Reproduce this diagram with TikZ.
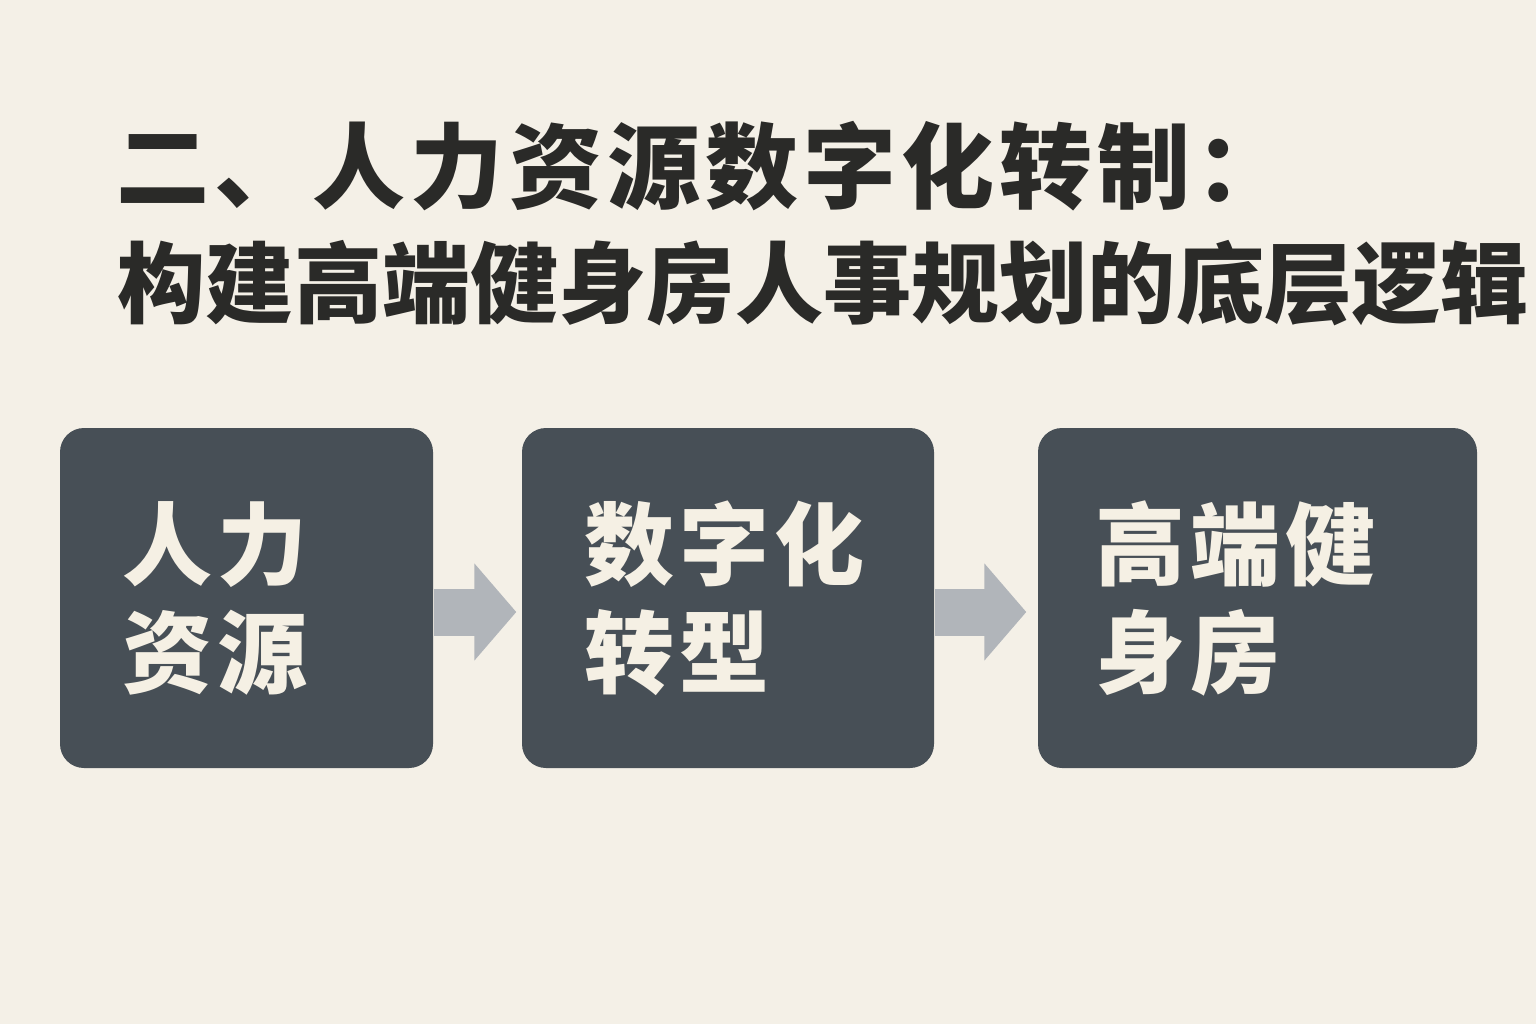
\documentclass[tikz,border=0pt]{standalone}
\usepackage{fontspec}
\setmainfont{Noto Sans CJK SC}
\newfontfamily\titlefont{Noto Sans CJK SC}[LetterSpace=5.5]
\newfontfamily\boxfont{Noto Sans CJK SC}[LetterSpace=6]
\usepackage{tikz}
\usetikzlibrary{positioning, calc, arrows.meta}
\usepackage{xcolor}
\definecolor{paper}{HTML}{F4F0E7}
\definecolor{slate}{HTML}{474F56}
\definecolor{ink}{HTML}{2A2A28}
\definecolor{cream}{HTML}{F5F0E4}
\definecolor{arrowgray}{HTML}{B1B5BA}

\begin{document}
\begin{tikzpicture}[
    block/.style={
        rectangle,
        fill=slate,
        text=cream,
        rounded corners=2.4mm,
        minimum height=3.4cm,
        inner xsep=6.2mm,
        align=left,
        font=\boxfont\fontsize{9mm}{10.8mm}\selectfont\bfseries
    },
    heading/.style={anchor=west, text=ink, inner sep=0pt},
    flow/.style={-{Triangle[length=4.2mm, width=9.5mm]}, line width=4.7mm, draw=arrowgray}
 % arrow style
]
    % canvas
    \fill[paper] (0,0) rectangle (15.36,10.24);
    \useasboundingbox (0,0) rectangle (15.36,10.24);

    \node[heading, font=\titlefont\fontsize{9.3mm}{9.3mm}\selectfont\bfseries] (title) at (1.16,8.58) {二、人力资源数字化转制：};
    \node[heading, font=\fontsize{8.82mm}{8.82mm}\selectfont\bfseries] (subtitle) at (1.17,7.41) {构建高端健身房人事规划的底层逻辑};

    \node[block, minimum width=3.73cm, text width=2.49cm] (hr) at (2.465,4.26) {人力\\资源};
    \node[block, minimum width=4.12cm, text width=2.88cm] (digital) at (7.28,4.26) {数字化\\转型};
    \node[block, minimum width=4.39cm, text width=3.25cm, inner xsep=5.7mm] (gym) at (12.575,4.26) {高端健\\身房};

    % arrows from edge to edge
    \draw[flow, shorten >=0.5mm] ([yshift=-1.4mm]hr.east) -- ([yshift=-1.4mm]digital.west);
    \draw[flow, shorten >=1.1mm] ([yshift=-1.4mm]digital.east) -- ([yshift=-1.4mm]gym.west);

\end{tikzpicture}
\end{document}
